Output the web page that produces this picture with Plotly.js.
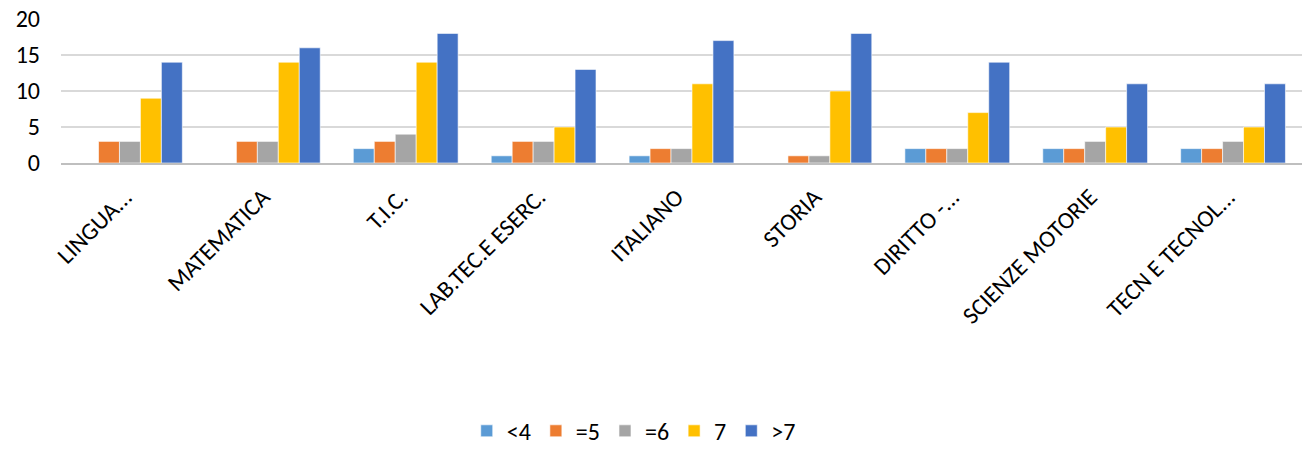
<!DOCTYPE html>
<html><head><meta charset="utf-8">
<script src="https://cdn.plot.ly/plotly-3.0.1.min.js"></script>
<style>html,body{margin:0;padding:0;background:#fff}#chart{width:1304px;height:456px}</style>
</head><body><div id="chart"></div>
<script>
const categories = ["LINGUA...", "MATEMATICA", "T.I.C.", "LAB.TEC.E ESERC.", "ITALIANO", "STORIA", "DIRITTO -...", "SCIENZE MOTORIE", "TECN E TECNOL..."];
const seriesNames = ["<4", "=5", "=6", "7", ">7"];
const lt4 = [0, 0, 2, 1, 1, 0, 2, 2, 2];
const eq5 = [3, 3, 3, 3, 2, 1, 2, 2, 2];
const eq6 = [3, 3, 4, 3, 2, 1, 2, 3, 3];
const v7  = [9, 14, 14, 5, 11, 10, 7, 5, 5];
const gt7 = [14, 16, 18, 13, 17, 18, 14, 11, 11];
const yTicks = [0, 5, 10, 15, 20];
const colors = ["#5B9BD5", "#ED7D31", "#A5A5A5", "#FFC000", "#4472C4"];
const values = [lt4, eq5, eq6, v7, gt7];
const font = "Carlito, 'Open Sans', 'Liberation Sans', sans-serif";
const traces = values.map((v, i) => ({
  type: "bar", name: seriesNames[i], x: categories, y: v,
  marker: {color: colors[i], line: {color: "rgba(255,255,255,0.6)", width: 1}},
  hoverinfo: "x+y+name"
}));
const layout = {
  width: 1304, height: 456,
  margin: {l: 61, r: 2, t: 19, b: 293, autoexpand: false},
  barmode: "group", bargap: 0.24, bargroupgap: 0,
  paper_bgcolor: "#fff", plot_bgcolor: "#fff",
  font: {family: font, color: "#000"},
  xaxis: {
    type: "category", tickangle: -45, showgrid: false,
    showline: true, linecolor: "#BFBFBF", linewidth: 1.5,
    ticks: "", tickfont: {size: 24, color: "#000"}, automargin: false,
    ticklabelstandoff: 9, ticklabelshift: -5
  },
  yaxis: {
    range: [0, 20], tickvals: yTicks, showgrid: true,
    gridcolor: "#D9D9D9", gridwidth: 1.5, zeroline: false, showline: false,
    ticks: "", tickfont: {size: 24, color: "#000"}, ticklabelstandoff: 20, automargin: false
  },
  legend: {
    orientation: "h", xref: "container", x: 0.486, xanchor: "center",
    yref: "container", y: 0.005, yanchor: "bottom",
    font: {size: 24, color: "#000"}, itemwidth: 30, traceorder: "normal"
  },
  showlegend: true
};
Plotly.newPlot("chart", traces, layout, {displayModeBar: false, staticPlot: true});
</script></body></html>
